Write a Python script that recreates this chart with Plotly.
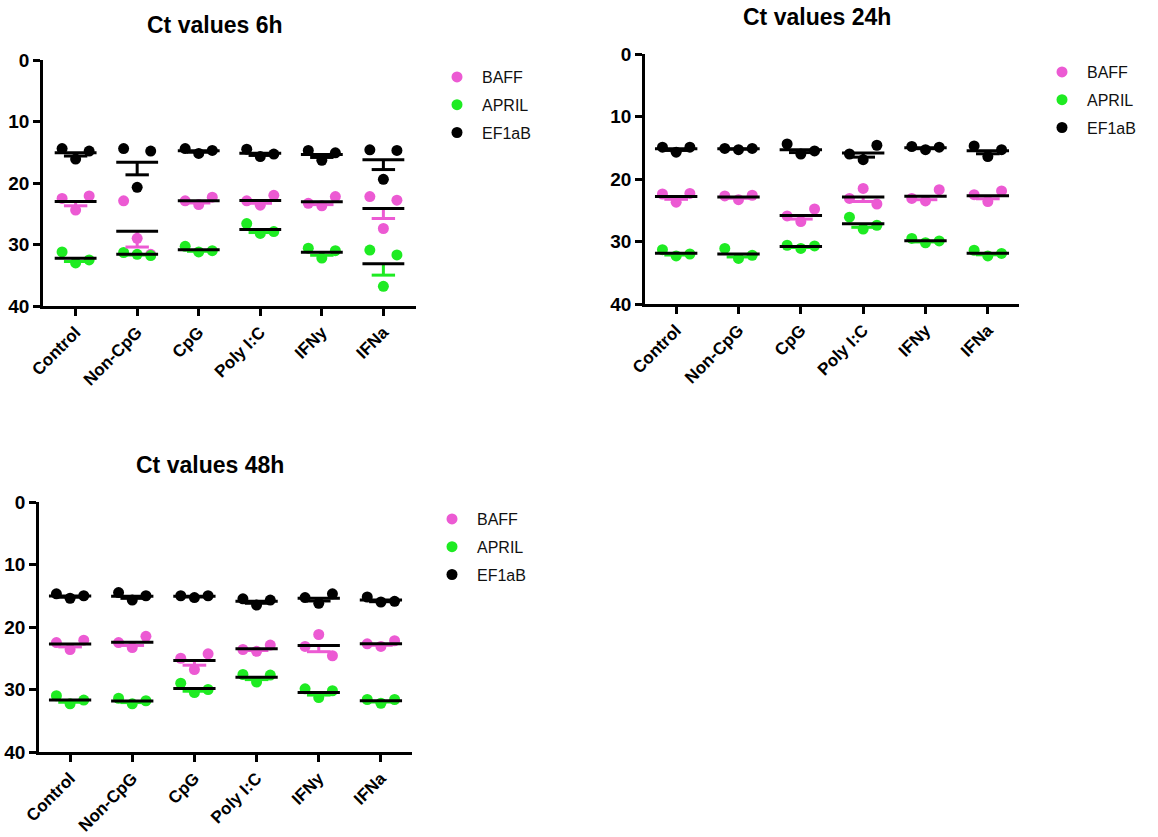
import numpy as np
import plotly.graph_objects as go

categories = ["Control", "Non-CpG", "CpG", "Poly I:C", "IFNy", "IFNa"]
genes = ["BAFF", "APRIL", "EF1aB"]
y_ticks = [0, 10, 20, 30, 40]

# Ct values, one list of 3 replicates per category (left, centre, right)
baff_6h = [[22.5, 24.4, 22.1], [22.9, 29.0, 31.6], [22.9, 23.5, 22.3],
           [22.9, 23.6, 22.0], [23.3, 23.7, 22.2], [22.2, 27.4, 22.8]]
april_6h = [[31.2, 33.0, 32.5], [31.3, 31.6, 31.8], [30.3, 31.2, 31.0],
            [26.6, 28.2, 27.9], [30.6, 32.2, 31.0], [30.9, 36.8, 31.7]]
ef1ab_6h = [[14.4, 16.1, 14.8], [14.4, 20.7, 14.8], [14.4, 15.2, 14.7],
            [14.5, 15.7, 15.3], [14.7, 16.3, 15.1], [14.6, 19.4, 14.7]]

baff_24h = [[22.4, 23.7, 22.3], [22.7, 23.3, 22.6], [25.9, 26.8, 24.8],
            [23.1, 21.5, 24.0], [23.1, 23.5, 21.7], [22.5, 23.6, 21.9]]
april_24h = [[31.3, 32.3, 32.0], [31.1, 32.7, 32.2], [30.6, 31.1, 30.7],
             [26.1, 28.0, 27.4], [29.5, 30.2, 29.9], [31.4, 32.3, 31.9]]
ef1ab_24h = [[14.9, 15.7, 14.9], [15.1, 15.3, 15.1], [14.4, 16.0, 15.5],
             [16.0, 16.9, 14.6], [14.8, 15.3, 14.9], [14.7, 16.4, 15.3]]

baff_48h = [[22.5, 23.6, 22.1], [22.5, 23.3, 21.5], [25.0, 26.8, 24.3],
            [23.6, 23.9, 22.9], [23.1, 21.2, 24.6], [22.7, 23.1, 22.2]]
april_48h = [[31.0, 32.3, 31.7], [31.4, 32.3, 31.8], [29.0, 30.5, 30.0],
             [27.6, 28.8, 27.7], [29.9, 31.3, 30.2], [31.6, 32.2, 31.6]]
ef1ab_48h = [[14.7, 15.4, 15.0], [14.5, 15.7, 15.0], [15.0, 15.3, 15.0],
             [15.5, 16.5, 15.7], [15.3, 16.2, 14.7], [15.2, 16.0, 15.9]]

titles = ["Ct values 6h", "Ct values 24h", "Ct values 48h"]
panel_data = [
    [baff_6h, april_6h, ef1ab_6h],
    [baff_24h, april_24h, ef1ab_24h],
    [baff_48h, april_48h, ef1ab_48h],
]

# ---- styling / layout ----
colors = ["#EC5AD3", "#1EEB22", "#000000"]
W, H = 1158, 837
FONT = "Arial, Liberation Sans, sans-serif"
offsets = np.array([-0.22, 0.0, 0.22])
mean_hw = 0.34
cap_hw = 0.19

# panel geometry in pixels: (x_left, x_right), (y_top(value 0), y_bottom(value 40)), x-range
panels = [
    dict(px=(43, 416), py=(60, 306), xr=[-0.53, 5.53], title_xy=(215, 25),
         leg_xy=(432, 60)),
    dict(px=(645, 1019), py=(54, 304), xr=[-0.5, 5.5], title_xy=(817, 17),
         leg_xy=(1037, 55)),
    dict(px=(39, 412), py=(502, 752), xr=[-0.5, 5.5], title_xy=(210, 465),
         leg_xy=(427, 502)),
]

fig = go.Figure()
layout_axes = {}
annotations = []
legend_names = ["legend", "legend2", "legend3"]

for p, (pan, data) in enumerate(zip(panels, panel_data)):
    ax = "" if p == 0 else str(p + 1)
    xa, ya = "x" + ax, "y" + ax
    cat_idx = np.arange(len(categories))
    # points
    for g, (gene, vals) in enumerate(zip(genes, data)):
        arr = np.array(vals, dtype=float)
        xs = (cat_idx[:, None] + offsets[None, :]).ravel()
        fig.add_trace(go.Scatter(
            x=xs, y=arr.ravel(), mode="markers", name=gene,
            marker=dict(color=colors[g], size=11, line=dict(width=0)),
            xaxis=xa, yaxis=ya, legend=legend_names[p],
            legendgroup=f"{p}-{gene}", showlegend=True,
            hoverinfo="x+y",
        ))
    # error bars (+SEM, drawn toward larger Ct)
    for g, (gene, vals) in enumerate(zip(genes, data)):
        arr = np.array(vals, dtype=float)
        means = arr.mean(axis=1)
        sem = arr.std(axis=1, ddof=1) / np.sqrt(arr.shape[1])
        ex, ey = [], []
        for i, (m, s) in enumerate(zip(means, sem)):
            ex += [i, i, None, i - cap_hw, i + cap_hw, None]
            ey += [m, m + s, None, m + s, m + s, None]
        fig.add_trace(go.Scatter(
            x=ex, y=ey, mode="lines", line=dict(color=colors[g], width=3),
            xaxis=xa, yaxis=ya, showlegend=False, hoverinfo="skip",
        ))
    # mean lines
    for g, (gene, vals) in enumerate(zip(genes, data)):
        arr = np.array(vals, dtype=float)
        means = arr.mean(axis=1)
        mx, my = [], []
        for i, m in enumerate(means):
            mx += [i - mean_hw, i + mean_hw, None]
            my += [m, m, None]
        fig.add_trace(go.Scatter(
            x=mx, y=my, mode="lines", line=dict(color="black", width=3),
            xaxis=xa, yaxis=ya, showlegend=False, hoverinfo="skip",
        ))

    x0, x1 = pan["px"]
    yt, yb = pan["py"]
    common = dict(showline=True, linecolor="black", linewidth=2.5,
                  ticks="outside", ticklen=7, tickwidth=2.5, tickcolor="black",
                  showgrid=False, zeroline=False, automargin=False)
    layout_axes["xaxis" + ax] = dict(
        common, domain=[x0 / W, x1 / W], range=pan["xr"], anchor=ya,
        tickmode="array", tickvals=list(range(len(categories))),
        ticktext=categories, tickangle=-45,
        tickfont=dict(family=FONT, size=17, color="black", weight="bold"),
    )
    layout_axes["yaxis" + ax] = dict(
        common, domain=[1 - yb / H, 1 - yt / H], range=[40, 0], anchor=xa,
        tickmode="array", tickvals=y_ticks,
        tickfont=dict(family=FONT, size=19, color="black", weight="bold"),
    )
    tx, ty = pan["title_xy"]
    annotations.append(dict(
        text=f"<b>{titles[p]}</b>", x=tx / W, y=1 - ty / H, xref="paper", yref="paper",
        xanchor="center", yanchor="middle", showarrow=False,
        font=dict(family=FONT, size=23, color="black"),
    ))
    lx, ly = pan["leg_xy"]
    layout_axes[legend_names[p]] = dict(
        x=lx / W, y=1 - ly / H, xanchor="left", yanchor="top",
        font=dict(family=FONT, size=16, color="#111111"),
        bgcolor="rgba(0,0,0,0)", borderwidth=0, tracegroupgap=4,
        itemwidth=40, itemclick=False, itemdoubleclick=False,
    )

fig.update_layout(
    width=W, height=H, margin=dict(l=0, r=0, t=0, b=0),
    paper_bgcolor="white", plot_bgcolor="white",
    annotations=annotations, **layout_axes,
)

fig.write_html("out.html", config={"displayModeBar": False},
               post_script="document.body.style.margin='0';")
